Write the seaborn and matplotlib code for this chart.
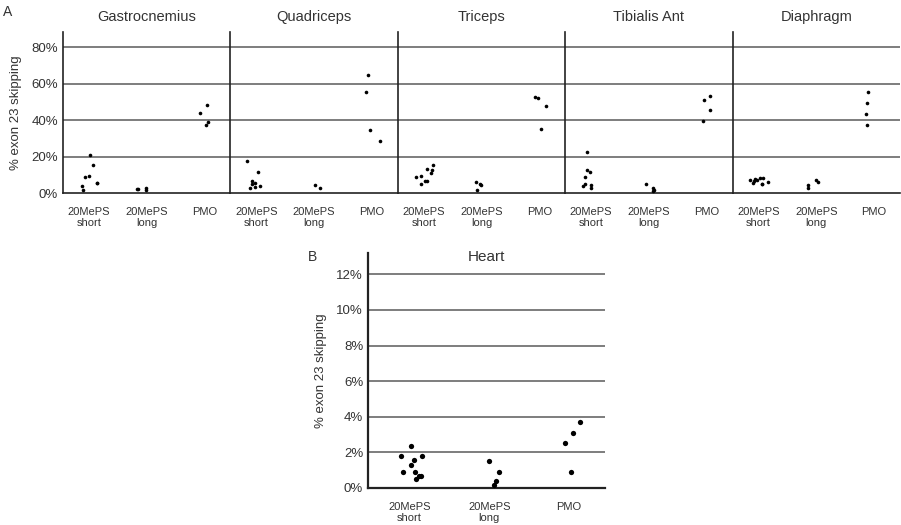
import numpy as np
import pandas as pd
import matplotlib
matplotlib.use('Agg')
import matplotlib.pyplot as plt
import seaborn as sns

np.random.seed(3)

# --- data (percent exon 23 skipping) ---
GROUPS = ['20MePS\nshort', '20MePS\nlong', 'PMO']
MUSCLES = ['Gastrocnemius', 'Quadriceps', 'Triceps', 'Tibialis Ant', 'Diaphragm']

gastro_short = [21.1, 15.2, 8.9, 9.3, 5.4, 5.4, 4.1, 1.5]
gastro_long = [2.4, 1.5, 2.2, 2.6]
gastro_pmo = [48.1, 43.9, 38.9, 37.4]

quad_short = [17.6, 11.3, 6.5, 5.6, 5.0, 4.1, 3.3, 2.8]
quad_long = [4.3, 2.6]
quad_pmo = [65.0, 55.7, 34.4, 28.5]

tri_short = [15.4, 13.1, 12.6, 11.1, 9.3, 8.9, 6.5, 6.5, 5.0]
tri_long = [6.1, 5.2, 4.3, 1.5]
tri_pmo = [52.6, 52.0, 48.0, 35.4]

tib_short = [22.4, 12.6, 11.5, 8.9, 5.2, 4.4, 3.9, 2.6]
tib_long = [5.0, 2.8, 1.5, 1.1]
tib_pmo = [53.1, 50.9, 45.4, 39.6]

dia_short = [8.3, 7.8, 7.4, 7.0, 6.5, 6.1, 5.6, 5.2, 4.8, 8.0]
dia_long = [7.4, 5.9, 4.6, 2.6]
dia_pmo = [55.6, 49.4, 43.3, 37.2]

heart_short = [2.37, 1.82, 1.82, 1.60, 1.28, 0.88, 0.88, 0.70, 0.70, 0.51]
heart_long = [1.49, 0.92, 0.38, 0.17]
heart_pmo = [3.71, 3.10, 2.54, 0.92]

muscle_data = {
    'Gastrocnemius': [gastro_short, gastro_long, gastro_pmo],
    'Quadriceps': [quad_short, quad_long, quad_pmo],
    'Triceps': [tri_short, tri_long, tri_pmo],
    'Tibialis Ant': [tib_short, tib_long, tib_pmo],
    'Diaphragm': [dia_short, dia_long, dia_pmo],
}


def to_frame(series):
    rows = []
    for g, vals in zip(GROUPS, series):
        for v in vals:
            rows.append({'group': g, 'value': v})
    return pd.DataFrame(rows)


sns.set_theme(style='white')
plt.rcParams['font.family'] = ['Liberation Sans', 'DejaVu Sans']
TXT = '#333333'
GRID = '#5a5a5a'

fig = plt.figure(figsize=(9.01, 5.25), dpi=100)
W, H = 901, 525


def fig_box(x0, y0, x1, y1):
    return [x0 / W, 1 - y1 / H, (x1 - x0) / W, (y1 - y0) / H]


# --- Panel A ---
left, right = 63, 900
pw = (right - left) / 5
for i, m in enumerate(MUSCLES):
    ax = fig.add_axes(fig_box(left + i * pw, 32, left + (i + 1) * pw, 193))
    df = to_frame(muscle_data[m])
    sns.stripplot(data=df, x='group', y='value', order=GROUPS, color='black',
                  size=2.6, jitter=0.17, ax=ax, zorder=3)
    ax.set_xlim(-0.45, 2.45)
    ax.set_ylim(0, 88.5)
    ax.set_yticks([0, 20, 40, 60, 80])
    for yv in [20, 40, 60, 80]:
        ax.axhline(yv, color=GRID, lw=1.1, zorder=1)
    for s in ['top', 'right']:
        ax.spines[s].set_visible(False)
    ax.spines['left'].set_color('#222222')
    ax.spines['left'].set_linewidth(1.2)
    ax.spines['bottom'].set_color('#222222')
    ax.spines['bottom'].set_linewidth(1.2)
    ax.set_xlabel('')
    ax.set_ylabel('')
    ax.tick_params(axis='both', length=0, colors=TXT, labelsize=8)
    ax.tick_params(axis='x', pad=10)
    if i == 0:
        ax.set_yticklabels([f'{t}%' for t in [0, 20, 40, 60, 80]], fontsize=9.5, color=TXT)
        ax.set_ylabel('% exon 23 skipping', fontsize=9.5, color=TXT, labelpad=7)
    else:
        ax.set_yticklabels([])
    for lbl in ax.get_xticklabels():
        lbl.set_linespacing(1.2)
    ax.set_title(m, fontsize=10.5, color=TXT, pad=8)

fig.text(3 / W, 1 - 12 / H, 'A', fontsize=10, color=TXT, va='center', ha='left')

# --- Panel B ---
axb = fig.add_axes(fig_box(368, 253, 605, 488))
dfh = to_frame([heart_short, heart_long, heart_pmo])
sns.stripplot(data=dfh, x='group', y='value', order=GROUPS, color='black',
              size=3.8, jitter=0.17, ax=axb, zorder=3)
axb.set_xlim(-0.52, 2.45)
axb.set_ylim(0, 13.2)
axb.tick_params(axis='both', length=0, colors=TXT, labelsize=8)
axb.tick_params(axis='x', pad=10)
axb.set_yticks([0, 2, 4, 6, 8, 10, 12])
axb.set_yticklabels([f'{t}%' for t in [0, 2, 4, 6, 8, 10, 12]], fontsize=9.5, color=TXT)
for yv in [2, 4, 6, 8, 10, 12]:
    axb.axhline(yv, color=GRID, lw=1.1, zorder=1)
for s in ['top', 'right']:
    axb.spines[s].set_visible(False)
for s in ['left', 'bottom']:
    axb.spines[s].set_color('#222222')
    axb.spines[s].set_linewidth(1.6)
axb.set_xlabel('')
axb.set_ylabel('% exon 23 skipping', fontsize=9.5, color=TXT, labelpad=7)
for lbl in axb.get_xticklabels():
    lbl.set_linespacing(1.2)
axb.text(0.5, 0.985, 'Heart', transform=axb.transAxes, ha='center', va='center',
         fontsize=11, color=TXT)
fig.text(308 / W, 1 - 257 / H, 'B', fontsize=10, color=TXT, va='center', ha='left')

fig.savefig('out.png', dpi=100)
